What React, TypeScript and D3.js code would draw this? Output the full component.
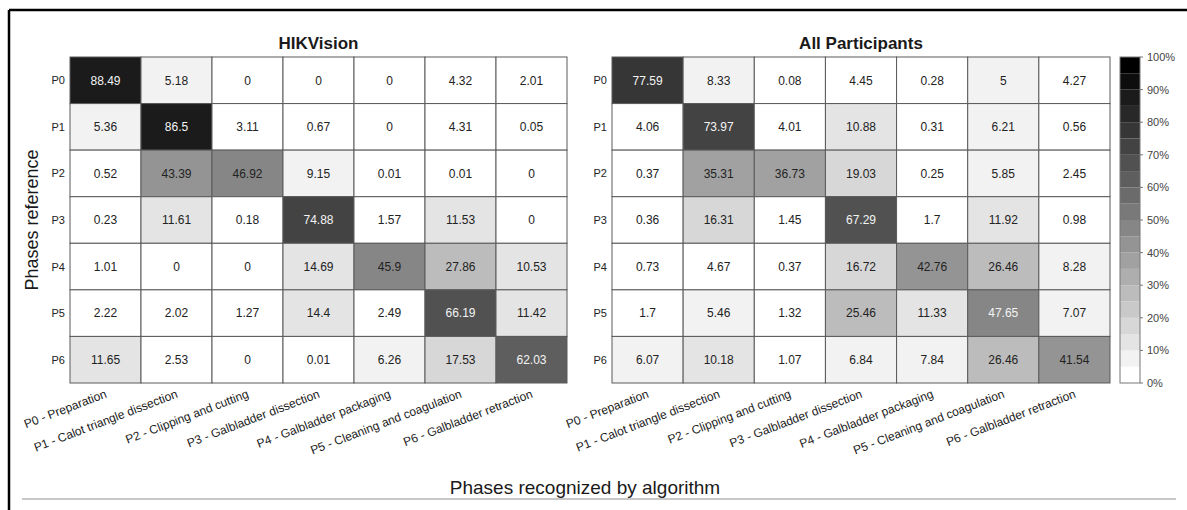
import React from "react";
import * as d3 from "d3";

const phases = ["P0", "P1", "P2", "P3", "P4", "P5", "P6"];
const phaseNames = [
  "P0 - Preparation",
  "P1 - Calot triangle dissection",
  "P2 - Clipping and cutting",
  "P3 - Galbladder dissection",
  "P4 - Galbladder packaging",
  "P5 - Cleaning and coagulation",
  "P6 - Galbladder retraction",
];
const hikvision = [
  [88.49, 5.18, 0, 0, 0, 4.32, 2.01],
  [5.36, 86.5, 3.11, 0.67, 0, 4.31, 0.05],
  [0.52, 43.39, 46.92, 9.15, 0.01, 0.01, 0],
  [0.23, 11.61, 0.18, 74.88, 1.57, 11.53, 0],
  [1.01, 0, 0, 14.69, 45.9, 27.86, 10.53],
  [2.22, 2.02, 1.27, 14.4, 2.49, 66.19, 11.42],
  [11.65, 2.53, 0, 0.01, 6.26, 17.53, 62.03],
];
const allParticipants = [
  [77.59, 8.33, 0.08, 4.45, 0.28, 5, 4.27],
  [4.06, 73.97, 4.01, 10.88, 0.31, 6.21, 0.56],
  [0.37, 35.31, 36.73, 19.03, 0.25, 5.85, 2.45],
  [0.36, 16.31, 1.45, 67.29, 1.7, 11.92, 0.98],
  [0.73, 4.67, 0.37, 16.72, 42.76, 26.46, 8.28],
  [1.7, 5.46, 1.32, 25.46, 11.33, 47.65, 7.07],
  [6.07, 10.18, 1.07, 6.84, 7.84, 26.46, 41.54],
];
const panelTitles = ["HIKVision", "All Participants"];
const colorTicks = [0, 10, 20, 30, 40, 50, 60, 70, 80, 90, 100];

const FONT = "'Liberation Sans', Arial, Helvetica, sans-serif";
const W = 1187;
const H = 510;
const gridTop = 57;
const gridBottom = 383;
const panels = [
  { x0: 70, x1: 567, data: hikvision, title: panelTitles[0] },
  { x0: 612, x1: 1110, data: allParticipants, title: panelTitles[1] },
];

// 20 discrete grey steps of 5%
const steps = d3.range(20);
const greys = steps.map((k) => {
  const g = Math.round((255 * (19 - k)) / 19);
  return `rgb(${g},${g},${g})`;
});
const color = d3.scaleQuantize<string>().domain([0, 100]).range(greys);

function Panel({ x0, x1, data, title }: any) {
  const x = d3.scaleBand<string>().domain(phases).range([x0, x1]);
  const y = d3.scaleBand<string>().domain(phases).range([gridTop, gridBottom]);
  const cells: any[] = [];
  data.forEach((row: number[], i: number) =>
    row.forEach((v: number, j: number) => cells.push({ v, r: phases[i], c: phases[j] }))
  );
  return (
    <g>
      <text
        x={(x0 + x1) / 2}
        y={49}
        textAnchor="middle"
        fontFamily={FONT}
        fontWeight="bold"
        fontSize={17}
        fill="#1a1a1a"
      >
        {title}
      </text>
      {cells.map((d, k) => (
        <g key={k}>
          <rect
            x={x(d.c)}
            y={y(d.r)}
            width={x.bandwidth()}
            height={y.bandwidth()}
            fill={color(d.v)}
            stroke="#5a5a5a"
            strokeWidth={1}
          />
          <text
            x={(x(d.c) as number) + x.bandwidth() / 2}
            y={(y(d.r) as number) + y.bandwidth() / 2}
            dy="0.36em"
            textAnchor="middle"
            fontFamily={FONT}
            fontSize={12}
            fill={d.v > 47 ? "#f4f4f4" : "#222"}
          >
            {String(d.v)}
          </text>
        </g>
      ))}
      {phases.map((p) => (
        <text
          key={p}
          x={x0 - 5}
          y={(y(p) as number) + y.bandwidth() / 2}
          dy="0.36em"
          textAnchor="end"
          fontFamily={FONT}
          fontSize={11}
          fill="#222"
        >
          {p}
        </text>
      ))}
      {phases.map((p, i) => {
        const cx = (x(p) as number) + x.bandwidth() / 2 + 2;
        const cy = gridBottom + 14;
        return (
          <text
            key={p}
            transform={`translate(${cx},${cy}) rotate(-21)`}
            textAnchor="end"
            fontFamily={FONT}
            fontSize={12}
            fill="#222"
          >
            {phaseNames[i]}
          </text>
        );
      })}
    </g>
  );
}

function ColorBar() {
  const cx0 = 1120;
  const cw = 20;
  const s = d3.scaleLinear().domain([0, 100]).range([gridBottom, gridTop]);
  return (
    <g>
      {steps.map((k) => (
        <rect
          key={k}
          x={cx0}
          y={s((k + 1) * 5)}
          width={cw}
          height={s(k * 5) - s((k + 1) * 5)}
          fill={greys[k]}
        />
      ))}
      <rect
        x={cx0}
        y={gridTop}
        width={cw}
        height={gridBottom - gridTop}
        fill="none"
        stroke="#777"
        strokeWidth={1}
      />
      {colorTicks.map((t) => (
        <g key={t}>
          <line x1={cx0 + cw} x2={cx0 + cw + 3} y1={s(t)} y2={s(t)} stroke="#777" />
          <text
            x={cx0 + cw + 7}
            y={s(t) + 4}
            fontFamily={FONT}
            fontSize={11}
            fill="#444"
          >
            {t + "%"}
          </text>
        </g>
      ))}
    </g>
  );
}

export default function App() {
  return (
    <svg
      width={W}
      height={H}
      style={{ position: "absolute", left: 0, top: 0, background: "#fff" }}
    >
      <rect x={0} y={0} width={W} height={H} fill="#fff" />
      <line x1={9} x2={W} y1={10} y2={10} stroke="#000" strokeWidth={2.5} />
      <line x1={9} x2={9} y1={10} y2={H} stroke="#000" strokeWidth={2.5} />
      <line x1={22} x2={1176} y1={499} y2={499} stroke="#c8c8c8" strokeWidth={2} />
      {panels.map((p, i) => (
        <Panel key={i} {...p} />
      ))}
      <ColorBar />
      <text
        transform={`translate(38,${(gridTop + gridBottom) / 2}) rotate(-90)`}
        textAnchor="middle"
        fontFamily={FONT}
        fontSize={18}
        fill="#1a1a1a"
      >
        Phases reference
      </text>
      <text
        x={585}
        y={494}
        textAnchor="middle"
        fontFamily={FONT}
        fontSize={19}
        fill="#1a1a1a"
      >
        Phases recognized by algorithm
      </text>
    </svg>
  );
}
